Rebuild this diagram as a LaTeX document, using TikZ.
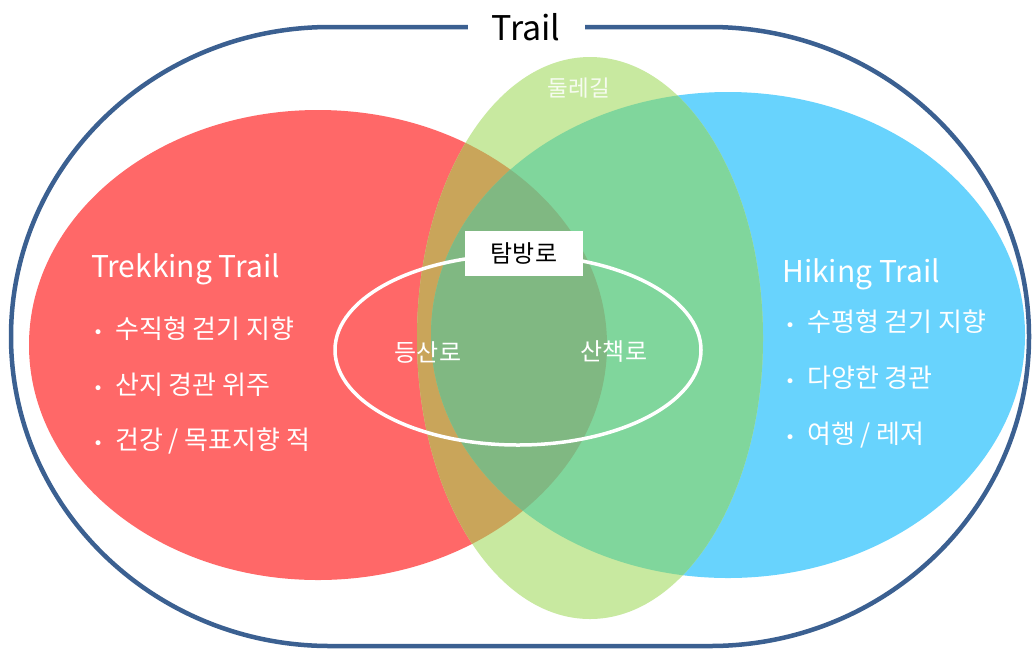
\documentclass[tikz,border=0pt]{standalone}
\usepackage{fontspec}
\setmainfont{Noto Sans CJK KR}
\newfontfamily\dejavu{DejaVu Sans}
\definecolor{frameblue}{RGB}{59,96,145}
\definecolor{tred}{RGB}{255,104,104}
\definecolor{tblue}{RGB}{104,211,253}
\definecolor{tgreen}{RGB}{200,233,160}
\definecolor{ttan}{RGB}{201,165,90}
\definecolor{tbg}{RGB}{128,214,156}
\definecolor{ttri}{RGB}{128,184,130}
\newcommand{\redpath}{(318,345) ellipse [x radius=289pt, y radius=235pt]}
\newcommand{\bluepath}{(728,335) ellipse [x radius=297pt, y radius=243pt]}
\newcommand{\greenpath}{(590,338) ellipse [x radius=173pt, y radius=281pt]}
\newcommand{\bl}{\makebox[22pt][l]{{\dejavu\fontsize{17pt}{18pt}\selectfont •}}}
\tikzset{
  title/.style={font=\fontsize{34pt}{38pt}\selectfont, text=black},
  head/.style={font=\fontsize{30pt}{36pt}\selectfont, text=white, anchor=base west, inner sep=0pt},
  item/.style={font=\fontsize{26pt}{28pt}\selectfont, text=white, anchor=west, inner sep=0pt},
  inlabel/.style={font=\fontsize{24pt}{28pt}\selectfont, text=white},
}
\begin{document}
\begin{tikzpicture}[x=1pt,y=-1pt]
\useasboundingbox (0,0) rectangle (1032,649);
\fill[white] (0,0) rectangle (1032,649);
% outer frame
\draw[frameblue, line width=4.5pt] (330,27) -- (710,27)
  arc[start angle=90, end angle=-90, x radius=319pt, y radius=309.5pt]
  -- (330,646)
  arc[start angle=270, end angle=90, x radius=319pt, y radius=309.5pt] -- cycle;
% circles
\fill[tred] \redpath;
\fill[tblue] \bluepath;
\fill[tgreen] \greenpath;
\begin{scope}
  \clip \redpath;
  \fill[ttri] \bluepath;
\end{scope}
\begin{scope}
  \clip \greenpath;
  \fill[ttan] \redpath;
  \fill[tbg] \bluepath;
  \begin{scope}
    \clip \redpath;
    \fill[ttri] \bluepath;
  \end{scope}
\end{scope}
% inner ellipse
\draw[white, line width=3.5pt] (518,350) ellipse [x radius=183pt, y radius=95pt];
% title
\node[title, fill=white, minimum width=117pt, minimum height=40pt, inner sep=0pt] (trail) at (526,27) {Trail};
% labels
\node[inlabel, text opacity=0.85, font=\fontsize{22.5pt}{26pt}\selectfont] (dulle) at (579,88) {둘레길};
\node[fill=white, minimum width=118pt, minimum height=45pt, inner sep=0pt, font=\fontsize{24pt}{28pt}\selectfont] (tam) at (524,253.5) {탐방로};
\node[inlabel] (deung) at (428,352) {등산로};
\node[inlabel] (sanch) at (614,352) {산책로};
% left
\node[head] (trek) at (91,277) {Trekking Trail};
\node[item] (t1) at (93,329) {\bl 수직형 걷기 지향};
\node[item] (t2) at (93,385) {\bl 산지 경관 위주};
\node[item] (t3) at (93,441) {\bl 건강 / 목표지향 적};
% right
\node[head] (hike) at (782,282) {Hiking Trail};
\node[item] (h1) at (785,322) {\bl 수평형 걷기 지향};
\node[item] (h2) at (785,378) {\bl 다양한 경관};
\node[item] (h3) at (785,435) {\bl 여행 / 레저};
\end{tikzpicture}
\end{document}
